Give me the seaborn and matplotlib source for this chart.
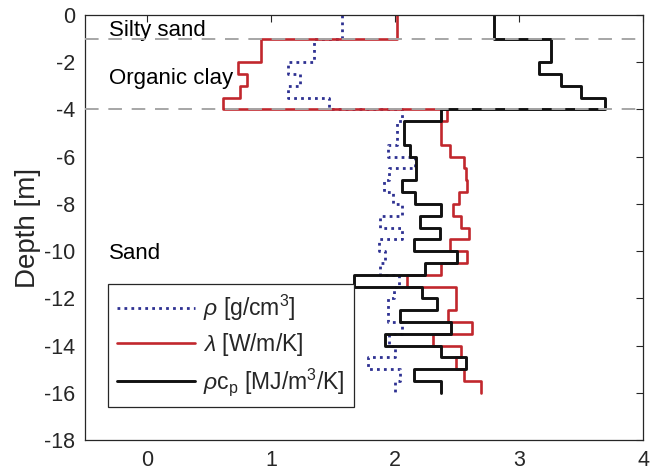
import numpy as np
import pandas as pd
import matplotlib
matplotlib.use("Agg")
import matplotlib.pyplot as plt
import seaborn as sns

# Layer boundaries (m, negative downwards): silty sand, organic clay, sand
layer_top = [0, -1, -2, -2.5, -3, -3.5,
             -4, -4.5, -5, -5.5, -6, -6.5, -7, -7.5, -8, -8.5, -9, -9.5,
             -10, -10.5, -11, -11.5, -12, -12.5, -13, -13.5, -14, -14.5, -15, -15.5]
layer_bottom = [-1, -2, -2.5, -3, -3.5, -4,
                -4.5, -5, -5.5, -6, -6.5, -7, -7.5, -8, -8.5, -9, -9.5, -10,
                -10.5, -11, -11.5, -12, -12.5, -13, -13.5, -14, -14.5, -15, -15.5, -16]

# Density rho [g/cm3]
rho = [1.57, 1.35, 1.14, 1.23, 1.14, 1.47,
       2.06, 2.02, 2.02, 1.94, 2.16, 1.95, 1.91, 1.98, 2.06, 1.88, 2.06, 1.87,
       1.92, 1.88, 2.03, 1.99, 1.94, 1.94, 2.06, 1.95, 2.00, 1.78, 2.04, 2.00]

# Thermal conductivity lambda [W/m/K]
lam = [2.02, 0.92, 0.73, 0.81, 0.75, 0.61,
       2.42, 2.37, 2.37, 2.44, 2.56, 2.57, 2.58, 2.52, 2.47, 2.53, 2.60, 2.44,
       2.58, 2.37, 2.10, 2.49, 2.49, 2.43, 2.62, 2.31, 2.53, 2.49, 2.56, 2.69]

# Volumetric heat capacity rho*c_p [MJ/m3/K]
rhocp = [2.80, 3.26, 3.16, 3.34, 3.50, 3.69,
         2.37, 2.07, 2.07, 2.12, 2.17, 2.17, 2.06, 2.16, 2.37, 2.20, 2.36, 2.15,
         2.50, 2.24, 1.67, 2.22, 2.34, 2.04, 2.45, 1.92, 2.37, 2.57, 2.15, 2.37]

soil_labels = ["Silty sand", "Organic clay", "Sand"]
soil_label_depth = [-0.65, -2.7, -10.1]
soil_boundaries = [-1, -4]

legend_labels = [r"$\rho$ [g/cm$^3$]", r"$\lambda$ [W/m/K]",
                 r"$\rho$c$_\mathrm{p}$ [MJ/m$^3$/K]"]


def step_profile(values):
    """Stair-step profile: each layer is a vertical segment at its value."""
    xs, ys = [], []
    for v, t, b in zip(values, layer_top, layer_bottom):
        xs += [v, v]
        ys += [t, b]
    return pd.DataFrame({"value": xs, "depth": ys})


sns.set_theme(style="white")
plt.rcParams["font.family"] = ["Liberation Sans", "DejaVu Sans"]
plt.rcParams["mathtext.fontset"] = "custom"
plt.rcParams["mathtext.rm"] = "Liberation Sans"
plt.rcParams["mathtext.it"] = "Liberation Sans:italic"
plt.rcParams["axes.unicode_minus"] = False

fig, ax = plt.subplots(figsize=(6.52, 4.75), dpi=100)
fig.subplots_adjust(left=85 / 652, right=643 / 652, top=1 - 15 / 475, bottom=1 - 440 / 475)

styles = [
    dict(color="#2e3192", linestyle=(0, (1, 1.5)), linewidth=2.0),
    dict(color="#c1272d", linestyle="-", linewidth=1.9),
    dict(color="#111111", linestyle="-", linewidth=2.1),
]
for vals, lab, st in zip([rho, lam, rhocp], legend_labels, styles):
    df = step_profile(vals)
    sns.lineplot(data=df, x="value", y="depth", sort=False, estimator=None,
                 ax=ax, label=lab, legend=False, **st)

for d in soil_boundaries:
    ax.axhline(d, color="#a6a6a6", linestyle=(0, (7, 5)), linewidth=1.4, zorder=5)

for name, d in zip(soil_labels, soil_label_depth):
    ax.text(-0.31, d, name, fontsize=16, color="black", va="center", ha="left")

ax.set_xlim(-0.5, 4)
ax.set_ylim(-18, 0)
ax.set_xticks([0, 1, 2, 3, 4])
ax.set_yticks(np.arange(-18, 1, 2))
ax.set_xlabel("")
ax.set_ylabel("Depth [m]", fontsize=20, color="#262626", labelpad=2)
ax.tick_params(direction="in", top=True, right=True, length=5, width=0.8,
               labelsize=15.5, colors="#262626", pad=7)
for sp in ax.spines.values():
    sp.set_color("#262626")
    sp.set_linewidth(0.9)

leg = ax.legend(loc="lower left", bbox_to_anchor=(0.041, 0.078), borderaxespad=0,
                fontsize=16.5, frameon=True, fancybox=False, handlelength=3.4,
                handletextpad=0.35, labelspacing=0.35, borderpad=0.4)
leg.get_frame().set_edgecolor("#262626")
leg.get_frame().set_linewidth(0.9)
leg.get_frame().set_alpha(1)

fig.savefig("out.png", dpi=100)
